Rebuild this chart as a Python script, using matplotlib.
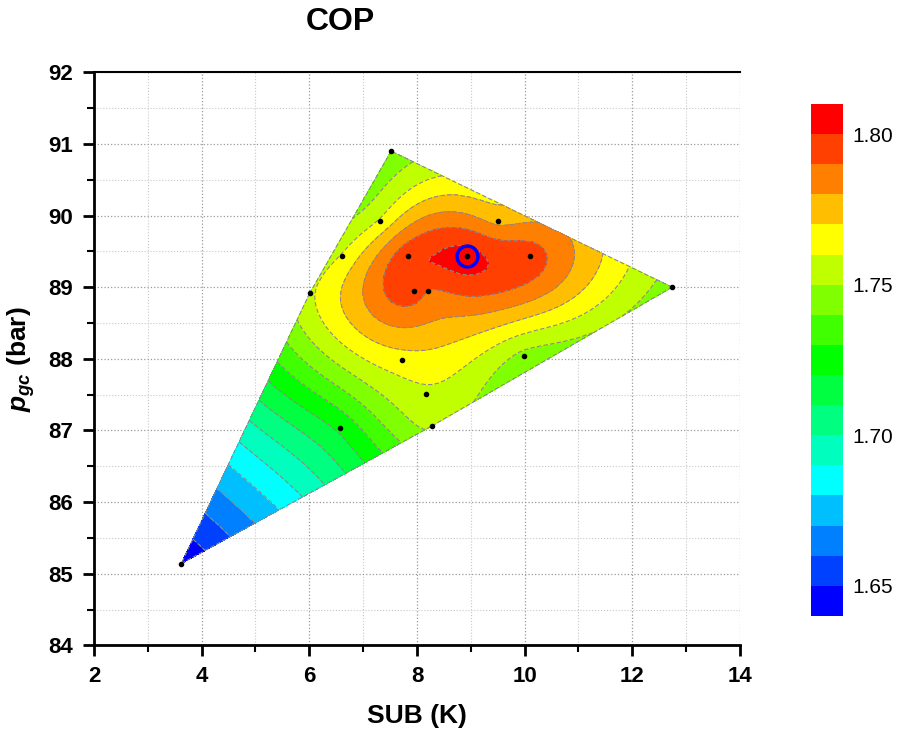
import matplotlib
matplotlib.use('Agg')
import matplotlib.pyplot as plt
import matplotlib.tri as mtri
from matplotlib.colors import ListedColormap, BoundaryNorm
import numpy as np

plt.rcParams['font.family'] = ['Liberation Sans', 'DejaVu Sans']
plt.rcParams['mathtext.fontset'] = 'custom'
plt.rcParams['mathtext.it'] = 'Liberation Sans:italic:bold'
plt.rcParams['mathtext.rm'] = 'Liberation Sans:bold'

# measured points: subcooling (K), gas cooler pressure (bar), COP
sub = [3.62, 7.52, 12.74, 6.01, 6.61, 7.31, 7.84, 8.92, 9.51, 10.09,
       7.94, 8.20, 7.73, 8.16, 8.27, 6.57, 9.99]
pgc = [85.14, 90.90, 89.00, 88.92, 89.44, 89.93, 89.44, 89.43, 89.93, 89.44,
       88.95, 88.95, 87.99, 87.51, 87.06, 87.03, 88.04]
cop = [1.641, 1.742, 1.745, 1.758, 1.761, 1.761, 1.797, 1.8035, 1.777, 1.795,
       1.796, 1.790, 1.766, 1.758, 1.752, 1.722, 1.747]

best_sub = 8.92
best_pgc = 89.43

levels = [1.64, 1.65, 1.66, 1.67, 1.68, 1.69, 1.70, 1.71, 1.72,
          1.73, 1.74, 1.75, 1.76, 1.77, 1.78, 1.79, 1.80, 1.81]
band_colors = ['#0000ff', '#0040ff', '#0080ff', '#00bfff', '#00ffff', '#00ffbf',
               '#00ff80', '#00ff40', '#00ff00', '#40ff00', '#80ff00', '#bfff00',
               '#ffff00', '#ffbf00', '#ff8000', '#ff4000', '#ff0000']
cbar_ticks = [1.65, 1.70, 1.75, 1.80]


def thin_plate(xs, ys, zs, xq, yq, yscale=1.33):
    """thin plate spline through the measured points, evaluated at xq, yq"""
    xs, ys, zs = np.asarray(xs), np.asarray(ys) * yscale, np.asarray(zs)
    yq = np.asarray(yq) * yscale
    n = len(xs)

    def kern(r):
        return np.where(r > 0, r ** 2 * np.log(np.maximum(r, 1e-12)), 0.0)

    K = kern(np.hypot(xs[:, None] - xs[None, :], ys[:, None] - ys[None, :]))
    P = np.column_stack([np.ones(n), xs, ys])
    A = np.block([[K, P], [P.T, np.zeros((3, 3))]])
    sol = np.linalg.solve(A, np.concatenate([zs, np.zeros(3)]))
    w, a = sol[:n], sol[n:]
    Kq = kern(np.hypot(xq[:, None] - xs[None, :], yq[:, None] - ys[None, :]))
    return Kq @ w + a[0] + a[1] * xq + a[2] * yq


fig = plt.figure(figsize=(9.02, 7.35), dpi=100)
ax = fig.add_axes([0.1042, 0.122, 0.7162, 0.7796])

tri = mtri.Triangulation(sub, pgc)
refiner = mtri.UniformTriRefiner(tri)
fine_tri = refiner.refine_triangulation(subdiv=4)
fine_cop = thin_plate(sub, pgc, cop, fine_tri.x, fine_tri.y)
fine_cop = np.clip(fine_cop, 1.6405, 1.8095)

cmap = ListedColormap(band_colors)
norm = BoundaryNorm(levels, cmap.N)
cf = ax.tricontourf(fine_tri, fine_cop, levels=levels, cmap=cmap, norm=norm)
ax.tricontour(fine_tri, fine_cop, levels=levels, colors='#8a8a8a', linewidths=0.8,
              linestyles=[(0, (4, 2))])

# dashed outline along the hull of the triangulation
for t in range(len(tri.triangles)):
    for j in range(3):
        if tri.neighbors[t, j] == -1:
            a = tri.triangles[t, j]
            b = tri.triangles[t, (j + 1) % 3]
            ax.plot([sub[a], sub[b]], [pgc[a], pgc[b]], color='#8a8a8a',
                    lw=0.8, ls=(0, (4, 2)))

ax.scatter(sub, pgc, s=9, color='black', zorder=5)
ax.plot(best_sub, best_pgc, 'o', mfc='none', mec='#0000ff', ms=15, mew=2.5, zorder=6)

ax.set_xlim(2, 14)
ax.set_ylim(84, 92)
ax.set_xticks(np.arange(2, 15, 2))
ax.set_xticks(np.arange(3, 14, 2), minor=True)
ax.set_yticks(np.arange(84, 93, 1))
ax.set_yticks(np.arange(84.5, 92, 1), minor=True)
ax.set_axisbelow(True)
ax.grid(which='major', color='#9a9a9a', ls=':', lw=0.9)
ax.grid(which='minor', color='#c8c8c8', ls=':', lw=0.8)

ax.spines['right'].set_visible(False)
ax.spines['top'].set_linewidth(1.5)
for s in ['left', 'bottom']:
    ax.spines[s].set_linewidth(2)
ax.tick_params(which='major', direction='out', length=8, width=2, pad=7)
ax.tick_params(which='minor', direction='out', length=5, width=1.5)
for lab in ax.get_xticklabels() + ax.get_yticklabels():
    lab.set_fontsize(16)
    lab.set_fontweight('bold')

ax.set_xlabel('SUB (K)', fontsize=19, fontweight='bold', labelpad=12)
ax.set_ylabel(r'$p_{gc}$ (bar)', fontsize=19, fontweight='bold', labelpad=8)
fig.text(0.377, 0.97, 'COP', ha='center', va='center', fontsize=23, fontweight='bold')

cax = fig.add_axes([0.899, 0.162, 0.0355, 0.6966])
cb = fig.colorbar(cf, cax=cax, ticks=cbar_ticks)
cb.outline.set_visible(False)
cax.tick_params(which='both', length=0, labelsize=15, pad=7)
cax.minorticks_off()
cax.set_yticklabels(['%.2f' % v for v in cbar_ticks])

plt.savefig('out.png', dpi=100)
